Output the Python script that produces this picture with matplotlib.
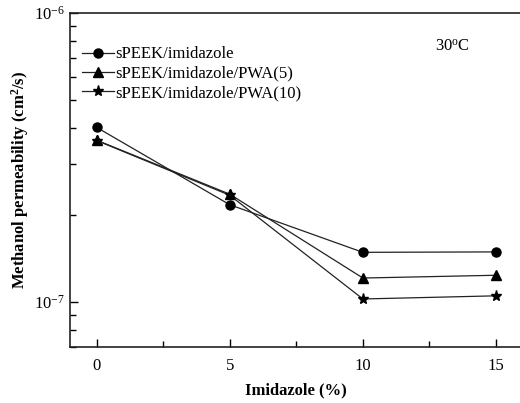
import numpy as np
import matplotlib
matplotlib.use('Agg')
import matplotlib.pyplot as plt
from matplotlib.ticker import LogLocator, FixedLocator, NullFormatter

plt.rcParams['font.family'] = ['Liberation Serif', 'DejaVu Serif']
plt.rcParams['mathtext.fontset'] = 'custom'
plt.rcParams['mathtext.rm'] = 'Liberation Serif'

# data
imidazole = [0, 5, 10, 15]
speek_im = [4.02e-7, 2.17e-7, 1.485e-7, 1.49e-7]
speek_pwa5 = [3.63e-7, 2.36e-7, 1.21e-7, 1.237e-7]
speek_pwa10 = [3.62e-7, 2.34e-7, 1.024e-7, 1.05e-7]
series = [
    ('sPEEK/imidazole', speek_im, 'o', 6.5),
    ('sPEEK/imidazole/PWA(5)', speek_pwa5, '^', 7),
    ('sPEEK/imidazole/PWA(10)', speek_pwa10, '*', 8),
]

fig = plt.figure(figsize=(5.2, 4.03), dpi=100)
ax = fig.add_axes([70 / 520, 0.1397, 1.0 - 70 / 520 + 0.002, 0.9677 - 0.1397])

for label, vals, m, ms in series:
    ax.plot(imidazole, vals, color='#222222', lw=0.9, marker=m, ms=ms,
            markerfacecolor='black', markeredgecolor='black', label=label)

ax.set_yscale('log')
ax.set_ylim(7e-8, 1e-6)
ax.set_xlim(-1, 15.94)

ax.xaxis.set_major_locator(FixedLocator([0, 5, 10, 15]))
ax.xaxis.set_minor_locator(FixedLocator([2.5, 7.5, 12.5]))
ax.yaxis.set_major_locator(FixedLocator([1e-7, 1e-6]))
ax.set_yticklabels([r'$\mathregular{10^{-7}}$', r'$\mathregular{10^{-6}}$'])
ax.yaxis.set_minor_locator(LogLocator(base=10, subs=np.arange(2, 10)))
ax.yaxis.set_minor_formatter(NullFormatter())

ax.tick_params(which='both', direction='in', labelsize=12, width=1)
ax.tick_params(which='major', length=6, pad=8)
ax.tick_params(which='minor', length=4)
ax.tick_params(axis='y', which='major', pad=4)

ax.spines['right'].set_visible(False)
for s in ['left', 'bottom', 'top']:
    ax.spines[s].set_linewidth(1.2)
    ax.spines[s].set_color('#222222')

ax.set_xlabel('Imidazole (%)', fontsize=12, fontweight='bold', labelpad=6)
ax.set_ylabel('Methanol permeability (cm$\\mathregular{^2}$/s)', fontsize=12,
              fontweight='bold', labelpad=2)

ax.text(435 / 520, 1 - 47 / 403, '30$\\mathregular{^o}$C', fontsize=12,
        transform=fig.transFigure, va='center', ha='left')

leg = ax.legend(loc='upper left', bbox_to_anchor=(0.005, 0.93), frameon=False,
                fontsize=12, handlelength=1.9, handletextpad=0.1,
                labelspacing=0.2, borderaxespad=0.2)

fig.savefig('out.png', dpi=100)
